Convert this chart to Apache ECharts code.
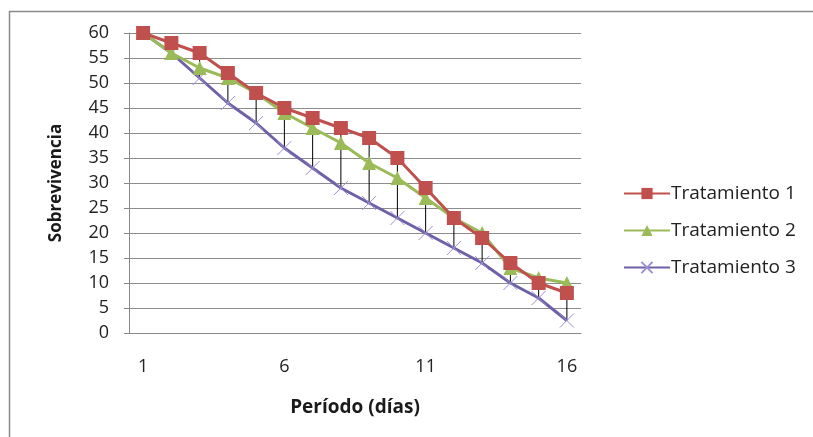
<!DOCTYPE html>
<html><head><meta charset="utf-8">
<script src="https://cdn.jsdelivr.net/npm/echarts@6/dist/echarts.min.js"></script>
<style>html,body{margin:0;padding:0;background:#fff}#c{width:813px;height:437px}</style>
</head><body><div id="c"></div>
<script>
const categories = ['1','2','3','4','5','6','7','8','9','10','11','12','13','14','15','16'];
const tratamiento1 = [60, 58, 56, 52, 48, 45, 43, 41, 39, 35, 29, 23, 19, 14, 10, 8];
const tratamiento2 = [60, 56, 53, 51, 48, 44, 41, 38, 34, 31, 27, 23, 20, 13, 11, 10];
const tratamiento3 = [60, 56, 51, 46, 42, 37, 33, 29, 26, 23, 20, 17, 14, 10, 7, 2.5];
const seriesNames = ['Tratamiento 1', 'Tratamiento 2', 'Tratamiento 3'];
const yTicks = {min: 0, max: 60, interval: 5};

const font = '"Open Sans", Lato, sans-serif';
const hiLo = categories.map((c, i) => {
  const v = [tratamiento1[i], tratamiento2[i], tratamiento3[i]];
  return [i, Math.max(...v), Math.min(...v)];
});

const chart = echarts.init(document.getElementById('c'));
chart.setOption({
  animation: false,
  backgroundColor: '#fff',
  graphic: [{type: 'rect', shape: {x: 9.5, y: 11.5, width: 820, height: 440}, style: {fill: 'none', stroke: '#8a8a8a', lineWidth: 1.5}, z: -1}],
  grid: {left: 129, right: 232, top: 33, bottom: 104},
  xAxis: {
    type: 'category', data: categories, boundaryGap: true,
    name: 'Período (días)', nameLocation: 'middle', nameGap: 65,
    nameTextStyle: {fontFamily: font, fontSize: 19, fontWeight: 'bold', color: '#1a1a1a'},
    axisLine: {lineStyle: {color: '#888', width: 1}},
    axisTick: {show: false},
    axisLabel: {interval: 4, margin: 25, fontFamily: font, fontSize: 18, color: '#222'}
  },
  yAxis: {
    type: 'value', min: yTicks.min, max: yTicks.max, interval: yTicks.interval,
    name: 'Sobrevivencia', nameLocation: 'middle', nameGap: 64,
    nameTextStyle: {fontFamily: font, fontSize: 17, fontWeight: 'bold', color: '#1a1a1a'},
    axisLine: {show: true, lineStyle: {color: '#888'}},
    axisTick: {show: true, length: 5, lineStyle: {color: '#888'}},
    axisLabel: {fontFamily: font, fontSize: 18, color: '#222', margin: 20},
    splitLine: {lineStyle: {color: '#8c8c8c', width: 1}}
  },
  legend: {
    orient: 'vertical', left: 618, top: 179, itemGap: 18, itemWidth: 46, itemHeight: 14,
    textStyle: {fontFamily: font, fontSize: 19, color: '#222', padding: [0, 0, 0, -4]},
    data: seriesNames
  },
  series: [
    {
      type: 'custom', name: 'hilo', data: hiLo, z: 1, silent: true,
      renderItem: (params, api) => {
        const p1 = api.coord([api.value(0), api.value(1)]);
        const p2 = api.coord([api.value(0), api.value(2)]);
        return {type: 'line', shape: {x1: p1[0], y1: p1[1], x2: p2[0], y2: p2[1]}, style: {stroke: '#000', lineWidth: 1}};
      }
    },
    {
      name: seriesNames[2], type: 'line', data: tratamiento3, z: 2,
      symbol: 'path://M0,0L10,10M10,0L0,10', symbolSize: 14,
      lineStyle: {color: '#7060a8', width: 3},
      itemStyle: {color: '#8878c0', borderColor: '#9c8fd0', borderWidth: 1}
    },
    {
      name: seriesNames[1], type: 'line', data: tratamiento2, z: 3,
      symbol: 'triangle', symbolSize: 14,
      lineStyle: {color: '#9bbb59', width: 3},
      itemStyle: {color: '#9bbb59'}
    },
    {
      name: seriesNames[0], type: 'line', data: tratamiento1, z: 4,
      symbol: 'rect', symbolSize: 14,
      lineStyle: {color: '#c0504d', width: 3},
      itemStyle: {color: '#c0504d'}
    }
  ]
});
</script></body></html>
